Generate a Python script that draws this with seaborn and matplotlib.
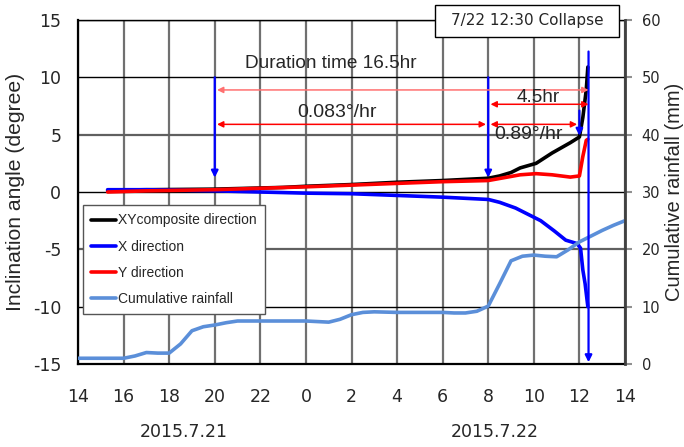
import numpy as np
import pandas as pd
import matplotlib
matplotlib.use("Agg")
import matplotlib.pyplot as plt
import matplotlib.transforms as mtransforms
from matplotlib.patches import Rectangle
import seaborn as sns

# ---- data (hours counted from 2015-07-21 14:00) ----
xy_hours = [1.3, 3, 6, 9, 10, 12, 14, 16, 17, 18, 18.5, 19, 19.4, 20.1, 20.8, 21.6, 22.0, 22.15, 22.3, 22.37]
xy_vals = [0.15, 0.2, 0.25, 0.4, 0.5, 0.65, 0.85, 1.0, 1.1, 1.2, 1.4, 1.7, 2.1, 2.5, 3.4, 4.3, 4.8, 6.5, 8.9, 10.9]

x_hours = [1.3, 3, 6, 8, 10, 12, 14, 16, 18, 18.5, 19.2, 19.5, 20.3, 20.9, 21.4, 21.9, 22.05, 22.15, 22.25, 22.37]
x_vals = [0.2, 0.2, 0.1, 0.0, -0.1, -0.15, -0.3, -0.45, -0.65, -0.9, -1.4, -1.7, -2.5, -3.4, -4.2, -4.5, -4.9, -6.8, -8.0, -10.0]

y_hours = [1.3, 3, 6, 10, 14, 16, 18, 19.4, 20.1, 20.8, 21.6, 22.0, 22.15, 22.3, 22.37]
y_vals = [0.0, 0.1, 0.2, 0.45, 0.75, 0.9, 1.0, 1.5, 1.6, 1.5, 1.3, 1.4, 3.1, 4.5, 4.6]

rain_hours = [0, 1, 2, 2.5, 3, 3.5, 4, 4.5, 5, 5.5, 6, 6.5, 7, 8, 9, 10, 10.5, 11, 11.5, 12, 12.5, 13, 14,
              15, 16, 16.5, 17, 17.5, 18, 18.5, 19, 19.5, 20, 20.5, 21, 21.5, 22, 22.5, 23, 23.5, 24]
rain_vals = [1.0, 1.0, 1.0, 1.4, 2.0, 1.9, 1.9, 3.5, 5.8, 6.5, 6.8, 7.2, 7.5, 7.5, 7.5, 7.5, 7.4, 7.3, 7.8, 8.6, 9.0, 9.1, 9.0,
             9.0, 9.0, 8.9, 8.9, 9.2, 10.1, 14.0, 18.0, 18.8, 19.0, 18.8, 18.7, 19.9, 21.3, 22.3, 23.3, 24.2, 25.0]

tick_hours = list(range(0, 25, 2))
tick_labels = ["14", "16", "18", "20", "22", "0", "2", "4", "6", "8", "10", "12", "14"]
date_labels = ["2015.7.21", "2015.7.22"]
date_hours = [4.65, 18.3]

series_names = ["XYcomposite direction", "X direction", "Y direction", "Cumulative rainfall"]
series_colors = ["black", "#0000ff", "#ff0000", "#5b8fd9"]

collapse_hour = 22.4
start_hour = 6
acc_hour = 18
acc2_hour = 22.0

# ---- figure ----
sns.set_theme(style="white")
plt.rcParams["font.family"] = ["DejaVu Sans"]
fig = plt.figure(figsize=(6.84, 4.47), dpi=100)
ax = fig.add_axes([78 / 684, 1 - 364 / 447, (625 - 78) / 684, (364 - 20) / 447])
ax2 = ax.twinx()

# grid
ax.set_xlim(0, 24)
ax.set_ylim(-15, 15)
ax.set_xticks(tick_hours)
ax.set_xticklabels(tick_labels)
ax.set_yticks([-15, -10, -5, 0, 5, 10, 15])
ax.set_yticklabels(["-15", "-10", "-5", "0", "5", "10", "15"])
ax.grid(True, axis="x", color="#707070", lw=1.6)
ax.grid(True, axis="y", color="black", lw=1.0)
for gl, v in zip(ax.get_ygridlines(), [-15, -10, -5, 0, 5, 10, 15]):
    if abs(v) == 5:
        gl.set_color("#606060")
        gl.set_linewidth(1.6)
ax.set_axisbelow(True)
ax.tick_params(axis="both", length=0, labelsize=12.5)
ax.tick_params(axis="x", pad=17)
ax.tick_params(axis="y", pad=12)
for s in ["left", "bottom"]:
    ax.spines[s].set_color("black")
    ax.spines[s].set_linewidth(1.6)
ax.spines["top"].set_color("black")
ax.spines["top"].set_linewidth(1.0)
ax.spines["right"].set_visible(False)

sns.lineplot(x=xy_hours, y=xy_vals, ax=ax, color=series_colors[0], lw=2.6, label=series_names[0], legend=False)
sns.lineplot(x=x_hours, y=x_vals, ax=ax, color=series_colors[1], lw=2.6, label=series_names[1], legend=False)
sns.lineplot(x=y_hours, y=y_vals, ax=ax, color=series_colors[2], lw=2.6, label=series_names[2], legend=False)

ax2.set_ylim(0, 60)
ax2.set_yticks([0, 10, 20, 30, 40, 50, 60])
sns.lineplot(x=rain_hours, y=rain_vals, ax=ax2, color=series_colors[3], lw=2.6, label=series_names[3], legend=False)
ax2.grid(False)
ax2.tick_params(axis="y", length=5, width=1.5, color="#909090", labelsize=10.5, pad=7, direction="out")
for s in ["left", "bottom", "top"]:
    ax2.spines[s].set_visible(False)
ax2.spines["right"].set_color("#404040")
ax2.spines["right"].set_linewidth(2.0)

label_font = ["Liberation Sans", "DejaVu Sans"]
ax.set_ylabel("Inclination angle (degree)", fontsize=15.2, family=label_font, labelpad=6)
ax2.set_ylabel("Cumulative rainfall (mm)", fontsize=14.5, family=label_font, labelpad=3)
ax.set_xlabel("")

trans = mtransforms.blended_transform_factory(ax.transData, ax.transAxes)
for lab, hx in zip(date_labels, date_hours):
    ax.text(hx, -0.198, lab, transform=trans, ha="center", va="center", fontsize=12.5)

# ---- annotations ----
blue = "#0000ff"
arrow_kw = dict(arrowstyle="-|>", color=blue, lw=1.6, mutation_scale=10, shrinkA=0, shrinkB=0)
ax2.annotate("", xy=(start_hour, 32.5), xytext=(start_hour, 50), arrowprops=arrow_kw)
ax2.annotate("", xy=(acc_hour, 32.5), xytext=(acc_hour, 50), arrowprops=arrow_kw)
ax2.annotate("", xy=(acc2_hour, 39.8), xytext=(acc2_hour, 44.2), arrowprops=arrow_kw)
ax2.annotate("", xy=(collapse_hour, 0.3), xytext=(collapse_hour, 54.5), arrowprops=arrow_kw)

red_kw = dict(arrowstyle="<|-|>", color="#ff0000", lw=1.1, mutation_scale=9, shrinkA=0, shrinkB=0)
red_kw_light = dict(red_kw, color="#ff7070")
ax2.annotate("", xy=(start_hour + 0.1, 47.8), xytext=(collapse_hour, 47.8), arrowprops=red_kw_light)
ax2.annotate("", xy=(start_hour + 0.1, 41.8), xytext=(acc_hour - 0.1, 41.8), arrowprops=red_kw)
ax2.annotate("", xy=(acc_hour + 0.1, 45.3), xytext=(collapse_hour, 45.3), arrowprops=red_kw)
ax2.annotate("", xy=(acc_hour + 0.1, 41.8), xytext=(acc2_hour - 0.1, 41.8), arrowprops=red_kw)

ann_font = ["Liberation Sans", "DejaVu Sans"]
ax2.text(11.1, 52.4, "Duration time 16.5hr", ha="center", va="center", fontsize=13.7, family=ann_font)
ax2.text(11.35, 43.8, "0.083°/hr", ha="center", va="center", fontsize=14, family=ann_font)
ax2.text(20.2, 46.5, "4.5hr", ha="center", va="center", fontsize=13.7, family=ann_font)
ax2.text(19.78, 40.1, "0.89°/hr", ha="center", va="center", fontsize=14, family=ann_font)

# collapse box (figure-pixel layout)
W, H = 684, 447
fig.patches.append(Rectangle((435 / W, 1 - 37 / H), (619 - 435) / W, 32 / H, transform=fig.transFigure,
                             facecolor="white", edgecolor="black", lw=1.0, zorder=5))
fig.text(527 / W, 1 - 21 / H, "7/22 12:30 Collapse", ha="center", va="center", fontsize=11, zorder=6)

# legend
h1, l1 = ax.get_legend_handles_labels()
h2, l2 = ax2.get_legend_handles_labels()
leg = ax2.legend(h1 + h2, l1 + l2, loc="upper left", bbox_to_anchor=(0.009, 0.462),
                 prop={"family": "Liberation Sans", "size": 10}, frameon=True, fancybox=False,
                 edgecolor="#555555", framealpha=1, handlelength=1.8, handletextpad=0.1,
                 labelspacing=0.88, borderpad=0.6, borderaxespad=0)
leg.get_frame().set_linewidth(1.0)

fig.savefig("out.png", dpi=100)
